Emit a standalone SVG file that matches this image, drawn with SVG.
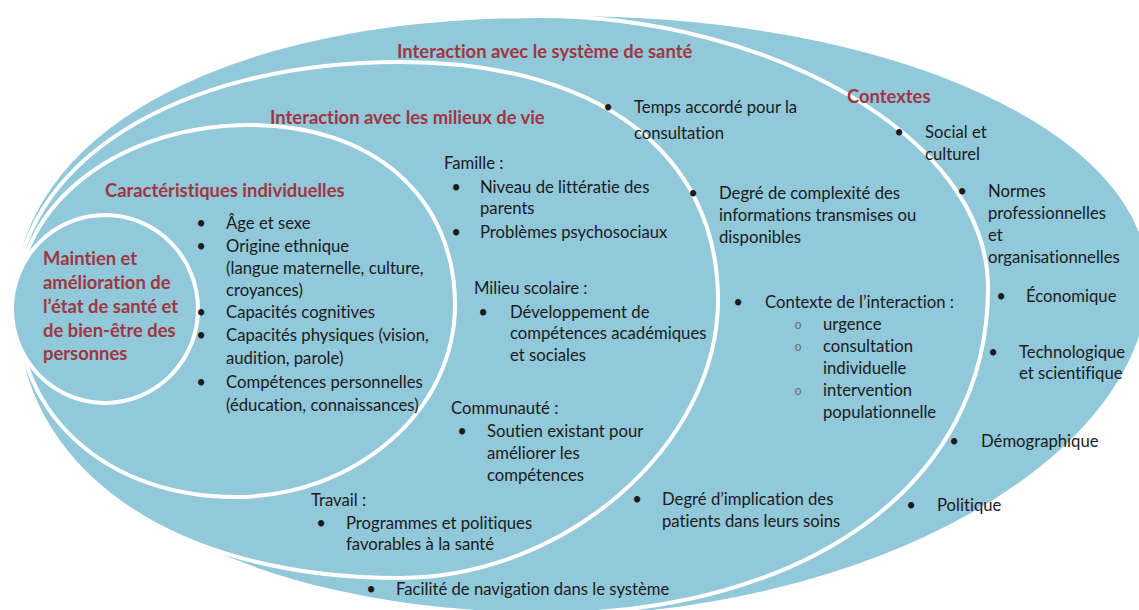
<svg xmlns="http://www.w3.org/2000/svg" width="1139" height="610" viewBox="0 0 1139 610">
<style>
.sh{fill:#91c8da;stroke:#ffffff;stroke-width:4}
text{font-family:Lato,"Liberation Sans",sans-serif;font-size:16.7px;fill:#1b1b1b;font-variant-ligatures:none;font-feature-settings:"liga" 0}
.t{font-weight:bold;fill:#a0363f;font-size:18.4px}
.b{text-anchor:middle}
.o{font-family:"Liberation Mono",monospace;font-size:12px;fill:#666;text-anchor:middle}
</style>
<rect width="1139" height="610" fill="#ffffff"/>
<g id="contextes">
<path class="sh" d="M60,295 C60,140.5 287.2,14 565,14 C893.7,14 1150,131 1150,280 C1150,460 870,618 540,618 C267,618 60,471.6 60,295 Z"/>
</g>
<g id="systeme-sante">
<path class="sh" d="M12,305 C12,131.6 223.2,16 540,16 C764,16 988,135 988,288 C988,483.6 808.8,614 540,614 C247,614 12,490.4 12,305 Z"/>
</g>
<g id="milieux-vie">
<path class="sh" d="M15,305 C15,164.1 176.7,62 400,62 C597.2,62 718,152.4 718,300 C718,444.6 565.4,578 400,578 C169,578 15,468.8 15,305 Z"/>
</g>
<g id="caracteristiques">
<path class="sh" d="M17,305 C17,204.2 119.5,125 250,125 C373,125 455,197 455,305 C455,410.6 356,497 235,497 C108.6,497 17,416.4 17,305 Z"/>
</g>
<g id="maintien-sante">
<ellipse class="sh" cx="105" cy="309" rx="93" ry="94"/>
</g>
<g id="contextes-labels">
<text class="t" x="847" y="103">Contextes</text>
<text class="b" x="899" y="138">•</text><text x="925" y="138">Social et</text><text x="925" y="160">culturel</text>
<text class="b" x="962" y="197">•</text><text x="988" y="197">Normes</text><text x="988" y="219">professionnelles</text><text x="988" y="241">et</text><text x="988" y="263">organisationnelles</text>
<text class="b" x="1001" y="302">•</text><text x="1026" y="302">Économique</text>
<text class="b" x="993" y="358">•</text><text x="1019" y="358">Technologique</text><text x="1019" y="379">et scientifique</text>
<text class="b" x="954" y="447">•</text><text x="981" y="447">Démographique</text>
<text class="b" x="911" y="511">•</text><text x="937" y="511">Politique</text>
</g>
<g id="systeme-sante-labels">
<text class="t" x="397" y="58">Interaction avec le système de santé</text>
<text class="b" x="608" y="113">•</text><text x="634" y="113">Temps accordé pour la</text><text x="634" y="139">consultation</text>
<text class="b" x="693" y="199">•</text><text x="719" y="199">Degré de complexité des</text><text x="719" y="221">informations transmises ou</text><text x="719" y="243">disponibles</text>
<text class="b" x="738" y="308">•</text><text x="765" y="308">Contexte de l’interaction :</text>
<text class="o" x="798" y="329">o</text><text x="823" y="330">urgence</text>
<text class="o" x="798" y="351">o</text><text x="823" y="352">consultation</text><text x="823" y="374">individuelle</text>
<text class="o" x="798" y="395">o</text><text x="823" y="396">intervention</text><text x="823" y="418">populationnelle</text>
<text class="b" x="637" y="505">•</text><text x="662" y="505">Degré d’implication des</text><text x="662" y="527">patients dans leurs soins</text>
<text class="b" x="371" y="595">•</text><text x="396" y="595">Facilité de navigation dans le système</text>
</g>
<g id="milieux-vie-labels">
<text class="t" x="270" y="124">Interaction avec les milieux de vie</text>
<text x="444" y="169">Famille :</text>
<text class="b" x="456" y="193">•</text><text x="480" y="193">Niveau de littératie des</text><text x="480" y="214">parents</text>
<text class="b" x="456" y="238">•</text><text x="480" y="238">Problèmes psychosociaux</text>
<text x="474" y="294">Milieu scolaire :</text>
<text class="b" x="483" y="318">•</text><text x="510" y="318">Développement de</text><text x="510" y="339">compétences académiques</text><text x="510" y="361">et sociales</text>
<text x="451" y="414">Communauté :</text>
<text class="b" x="462" y="437">•</text><text x="487" y="437">Soutien existant pour</text><text x="487" y="459">améliorer les</text><text x="487" y="481">compétences</text>
<text x="311" y="506">Travail :</text>
<text class="b" x="321" y="529">•</text><text x="346" y="529">Programmes et politiques</text><text x="346" y="550">favorables à la santé</text>
</g>
<g id="caracteristiques-labels">
<text class="t" x="105" y="197">Caractéristiques individuelles</text>
<text class="b" x="201" y="229">•</text><text x="226" y="229">Âge et sexe</text>
<text class="b" x="201" y="252">•</text><text x="226" y="252">Origine ethnique</text><text x="226" y="274">(langue maternelle, culture,</text><text x="226" y="296">croyances)</text>
<text class="b" x="201" y="318">•</text><text x="226" y="318">Capacités cognitives</text>
<text class="b" x="201" y="341">•</text><text x="226" y="341">Capacités physiques (vision,</text><text x="226" y="364">audition, parole)</text>
<text class="b" x="201" y="388">•</text><text x="226" y="388">Compétences personnelles</text><text x="226" y="411">(éducation, connaissances)</text>
</g>
<g id="maintien-sante-labels">
<text class="t" x="43" y="265">Maintien et</text>
<text class="t" x="43" y="289">amélioration de</text>
<text class="t" x="43" y="313">l’état de santé et</text>
<text class="t" x="43" y="337">de bien-être des</text>
<text class="t" x="43" y="360">personnes</text>
</g>
</svg>
